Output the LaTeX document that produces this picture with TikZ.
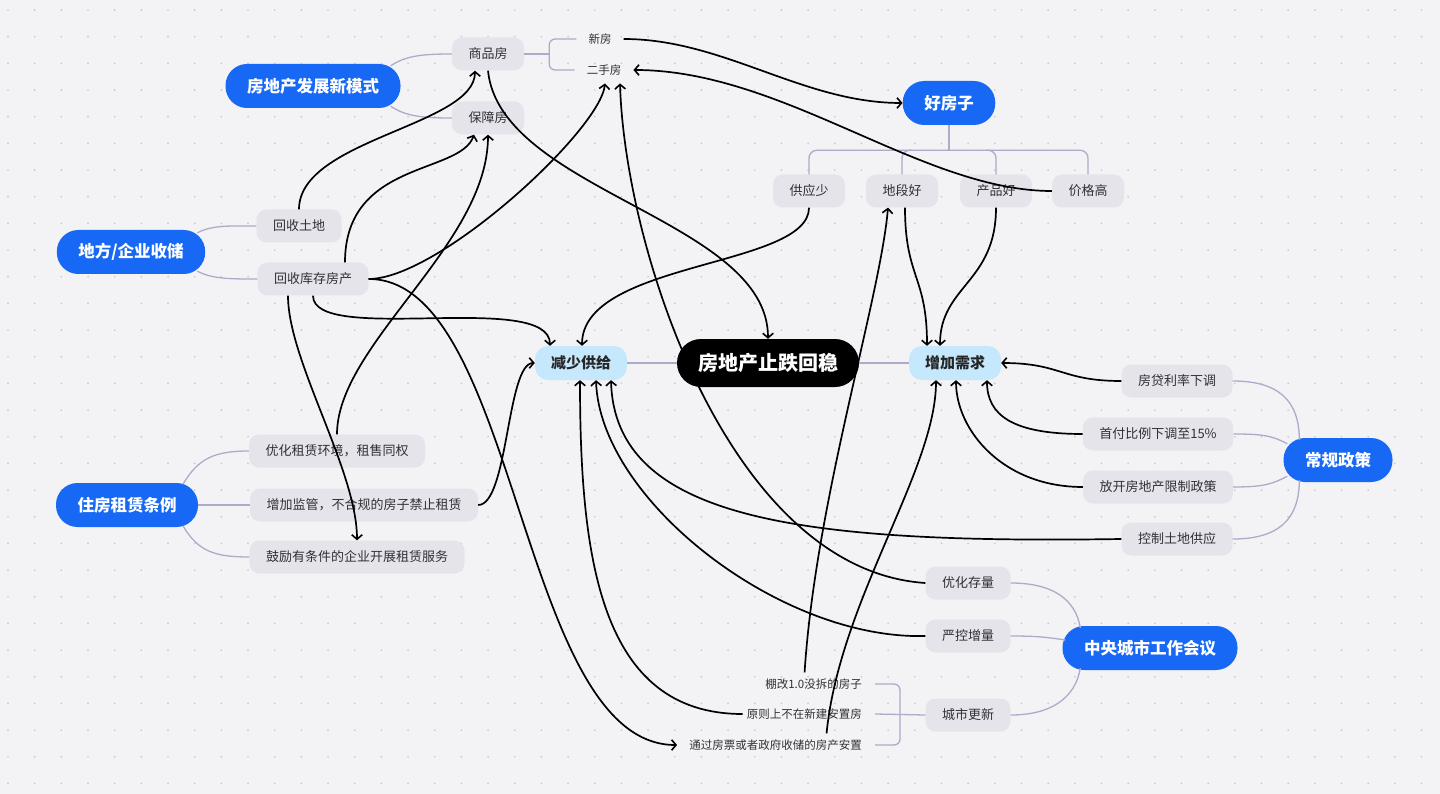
\documentclass[tikz,border=0pt]{standalone}
\usepackage{fontspec}
\setmainfont{Noto Sans CJK SC}
\usetikzlibrary{arrows.meta}
\definecolor{bg}{RGB}{243,243,246}
\definecolor{dotc}{RGB}{200,200,210}
\definecolor{pillblue}{RGB}{23,105,245}
\definecolor{boxgray}{RGB}{228,228,234}
\definecolor{lblue}{RGB}{198,232,252}
\definecolor{treec}{RGB}{172,172,202}
\definecolor{txtc}{RGB}{48,48,55}
\begin{document}
\begin{tikzpicture}[x=1pt,y=-1pt,
  pill/.style={fill=pillblue, text=white, rounded corners=21.5pt, minimum height=44pt, inner xsep=21.5pt, inner ysep=0pt, font=\fontsize{16.5}{18}\selectfont\bfseries},
  sub/.style={fill=boxgray, text=txtc, rounded corners=10pt, minimum height=33pt, inner xsep=16.5pt, inner ysep=0pt, font=\fontsize{13}{15}\selectfont},
  leaf/.style={text=txtc, inner sep=0pt, font=\fontsize{11.5}{13}\selectfont},
  mid/.style={fill=lblue, text=black!85, rounded corners=13pt, minimum height=34pt, inner xsep=16pt, inner ysep=0pt, font=\fontsize{15}{17}\selectfont\bfseries},
  core/.style={fill=black, text=white, rounded corners=24pt, minimum height=48pt, inner xsep=21pt, inner ysep=0pt, font=\fontsize{20}{22}\selectfont\bfseries},
  tree/.style={draw=treec, line width=1.3pt},
  link/.style={draw=black, line width=1.7pt, -{Straight Barb[length=4.5pt,width=10.5pt,line width=1.6pt]}},
]
\fill[bg] (0,0) rectangle (1440,794);
\useasboundingbox (0,0) rectangle (1440,794);
\foreach \i in {0,...,53} {\foreach \j in {0,...,29} {\fill[dotc] (8+\i*26.67,10+\j*26.67) circle (0.95pt);}}

% nodes
\node[pill] (m1) at (313,86) {房地产发展新模式};
\node[sub] (spf) at (488,54) {商品房};
\node[sub] (bzf) at (488,118) {保障房};
\node[leaf] (xf) at (600,39) {新房};
\node[leaf] (esf) at (604,70) {二手房};
\node[pill] (hfz) at (949,103) {好房子};
\node[sub] (gys) at (809,191) {供应少};
\node[sub] (ddh) at (902,191) {地段好};
\node[sub] (cph) at (996,191) {产品好};
\node[sub] (jgg) at (1088,191) {价格高};
\node[pill] (dfq) at (131,252) {地方/企业收储};
\node[sub] (hstd) at (299,226) {回收土地};
\node[sub] (hskc) at (313,279) {回收库存房产};
\node[mid] (jsgj) at (581,363) {减少供给};
\node[core] (core) at (768,363) {房地产止跌回稳};
\node[mid] (zjxq) at (955,363) {增加需求};
\node[pill] (zfzl) at (127,505) {住房租赁条例};
\node[sub] (yhzl) at (337,451) {优化租赁环境，租售同权};
\node[sub] (zjjg) at (364,505) {增加监管，不合规的房子禁止租赁};
\node[sub] (glyt) at (357,557) {鼓励有条件的企业开展租赁服务};
\node[sub] (fdll) at (1177,381) {房贷利率下调};
\node[sub] (sfbl) at (1158,434) {首付比例下调至15\%};
\node[sub] (fkfd) at (1158,487) {放开房地产限制政策};
\node[sub] (kztd) at (1177,539) {控制土地供应};
\node[pill] (cgzc) at (1338,460) {常规政策};
\node[sub] (yhcl) at (968,583) {优化存量};
\node[sub] (ykzl) at (968,636) {严控增量};
\node[sub] (csgx) at (968,715) {城市更新};
\node[pill] (zycs) at (1150,648) {中央城市工作会议};
\node[leaf, anchor=east] (pg) at (862,684) {棚改1.0没拆的房子};
\node[leaf, anchor=east] (yzs) at (862,714) {原则上不在新建安置房};
\node[leaf, anchor=east] (tgfp) at (862,745) {通过房票或者政府收储的房产安置};

% tree lines
\draw[tree] ([shift={(-10,2)}]m1.north east) .. controls +(15,-10) and +(-30,0) .. (spf.west);
\draw[tree] ([shift={(-10,-2)}]m1.south east) .. controls +(15,10) and +(-30,0) .. (bzf.west);
\draw[tree] (spf.east) -- ([xshift=25pt]spf.east);
\draw[tree, rounded corners=6pt] ([xshift=-12pt]xf.west) -| ([xshift=25pt]spf.east) |- ([xshift=-12pt]esf.west);
\coordinate (bar) at ([shift={(0,25)}]hfz.south);
\draw[tree] (hfz.south) -- (bar);
\draw[tree, rounded corners=8pt] (gys.north) |- (bar) -| (jgg.north);
\draw[tree, rounded corners=8pt] (ddh.north) |- ([xshift=10pt]ddh.north |- bar);
\draw[tree, rounded corners=8pt] (cph.north) |- ([xshift=-10pt]cph.north |- bar);
\draw[tree] ([shift={(-8,3)}]dfq.north east) .. controls +(15,-8) and +(-25,0) .. (hstd.west);
\draw[tree] ([shift={(-8,-3)}]dfq.south east) .. controls +(15,8) and +(-25,0) .. (hskc.west);
\draw[tree] ([shift={(-15,1)}]zfzl.north east) .. controls +(15,-25) and +(-35,0) .. (yhzl.west);
\draw[tree] (zfzl.east) -- (zjjg.west);
\draw[tree] ([shift={(-15,-1)}]zfzl.south east) .. controls +(15,25) and +(-35,0) .. (glyt.west);
\draw[tree] ([shift={(16,2)}]cgzc.north west) .. controls +(0,-40) and +(45,0) .. (fdll.east);
\draw[tree] ([shift={(4,6)}]cgzc.north west) .. controls +(-15,-8) and +(30,0) .. (sfbl.east);
\draw[tree] ([shift={(4,-6)}]cgzc.south west) .. controls +(-15,8) and +(30,0) .. (fkfd.east);
\draw[tree] ([shift={(16,-2)}]cgzc.south west) .. controls +(0,40) and +(45,0) .. (kztd.east);
\draw[tree] ([shift={(18,2)}]zycs.north west) .. controls +(-5,-30) and +(40,0) .. (yhcl.east);
\draw[tree] ([shift={(3,-8)}]zycs.west) .. controls +(-20,-3) and +(25,0) .. (ykzl.east);
\draw[tree] ([shift={(18,-2)}]zycs.south west) .. controls +(-5,30) and +(40,0) .. (csgx.east);
\draw[tree, rounded corners=6pt] ([xshift=13pt]pg.east) -| ([xshift=38pt]yzs.east) |- ([xshift=13pt]tgfp.east);
\draw[tree] ([xshift=13pt]yzs.east) -- (csgx.west);
\draw[tree] (jsgj.east) -- (core.west);
\draw[tree] (core.east) -- (zjxq.west);

% links
\draw[link] ([xshift=12pt]xf.east) .. controls +(100,0) and +(-100,0) .. (hfz.west);
\draw[link] (jgg.west) .. controls +(-130,0) and +(150,0) .. ([xshift=12pt]esf.east);
\draw[link] (spf.south) .. controls +(12,120) and +(0,-119) .. (core.north);
\draw[link] (hstd.north) .. controls +(0,-70) and +(0,55) .. ([xshift=-13pt]spf.south);
\draw[link] ([xshift=32pt]hskc.north) .. controls +(0,-102) and +(-14,40) .. ([xshift=-14pt]bzf.south);
\draw[link] (yhzl.north) .. controls +(0,-90) and +(0,110) .. (bzf.south);
\draw[link] (hskc.east) .. controls +(70,0) and +(-5,47) .. ([shift={(1,8)}]esf.south);
\draw[link] (yhcl.west) .. controls +(-196,-13) and +(5,167) .. ([shift={(16,8)}]esf.south);
\draw[link] (hskc.south) .. controls +(0,50) and +(0,-56) .. ([xshift=-31pt]jsgj.north);
\draw[link] (gys.south) .. controls +(0,60) and +(0,-85) .. ([xshift=1pt]jsgj.north);
\draw[link] ([xshift=-25pt]hskc.south) .. controls +(0,65) and +(0,-70) .. (glyt.north);
\draw[link] (hskc.east) .. controls +(150,0) and +(-158,0) .. ([xshift=-12pt]tgfp.west);
\draw[link] (zjjg.east) .. controls +(30,0) and +(-28,0) .. (jsgj.west);
\draw[link] (kztd.west) .. controls +(-322,5) and +(4,139) .. ([xshift=30pt]jsgj.south);
\draw[link] (ykzl.west) .. controls +(-146,4) and +(4,119) .. ([xshift=15pt]jsgj.south);
\draw[link] ([xshift=-4pt]yzs.west) .. controls +(-142,0) and +(0,179) .. ([xshift=-1pt]jsgj.south);
\draw[link] ([shift={(-9,-6)}]pg.north) .. controls +(11,-172) and +(-8,92) .. ([xshift=-14pt]ddh.south);
\draw[link] ([shift={(51,-6)}]tgfp.north) .. controls +(13,-133) and +(0,90) .. ([xshift=-19pt]zjxq.south);
\draw[link] ([xshift=3pt]ddh.south) .. controls +(0,70) and +(0,-70) .. ([xshift=-28pt]zjxq.north);
\draw[link] (cph.south) .. controls +(0,75) and +(0,-60) .. ([xshift=-15pt]zjxq.north);
\draw[link] (fdll.west) .. controls +(-60,0) and +(60,0) .. (zjxq.east);
\draw[link] (sfbl.west) .. controls +(-70,0) and +(0,35) .. ([xshift=32pt]zjxq.south);
\draw[link] (fkfd.west) .. controls +(-80,0) and +(0,50) .. ([xshift=1pt]zjxq.south);
\end{tikzpicture}
\end{document}
